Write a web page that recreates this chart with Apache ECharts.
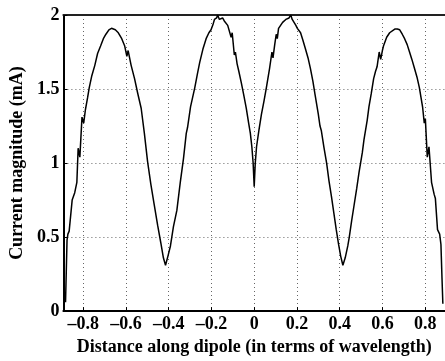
<!DOCTYPE html>
<html>
<head>
<meta charset="utf-8">
<script src="https://cdn.jsdelivr.net/npm/echarts@6/dist/echarts.min.js"></script>
<style>html,body{margin:0;padding:0;background:#fff}#c{width:445px;height:361px}</style>
</head>
<body>
<div id="c"></div>
<script>
const xTicks = [-0.8, -0.6, -0.4, -0.2, 0, 0.2, 0.4, 0.6, 0.8];
const yTicks = [0, 0.5, 1, 1.5, 2];
const distance = [
-0.883,-0.876,-0.872,-0.866,-0.860,-0.852,-0.840,-0.830,-0.824,-0.816,-0.806,-0.798,-0.790,-0.780,-0.772,-0.760,-0.746,-0.733,-0.719,-0.706,-0.694,-0.680,-0.668,-0.660,-0.650,-0.636,-0.620,-0.606,-0.596,-0.590,-0.576,-0.560,-0.545,-0.529,-0.514,-0.499,-0.484,-0.468,-0.452,-0.437,-0.425,-0.415,-0.404,-0.392,-0.378,-0.362,-0.346,-0.331,-0.318,-0.312,-0.298,-0.278,-0.266,-0.255,-0.240,-0.225,-0.212,-0.202,-0.192,-0.186,-0.176,-0.171,-0.163,-0.156,-0.148,-0.140,-0.133,-0.124,-0.116,-0.108,-0.103,-0.093,-0.088,-0.080,-0.072,-0.060,-0.049,-0.037,-0.026,-0.018,-0.011,-0.005,0.000,
0.005,0.011,0.022,0.034,0.046,0.057,0.072,0.083,0.088,0.096,0.103,0.108,0.114,0.120,0.133,0.140,0.148,0.155,0.163,0.171,0.178,0.186,0.195,0.202,0.217,0.228,0.240,0.252,0.263,0.275,0.285,0.300,0.308,0.314,0.326,0.339,0.350,0.362,0.373,0.384,0.395,0.405,0.415,0.426,0.438,0.445,0.456,0.468,0.480,0.491,0.506,0.514,0.529,0.537,0.548,0.559,0.568,0.575,0.585,0.592,0.600,0.605,0.620,0.634,0.643,0.658,0.670,0.681,0.693,0.704,0.716,0.727,0.738,0.750,0.762,0.773,0.788,0.796,0.801,0.810,0.818,0.830,0.842,0.848,0.858,0.868,0.874,0.879,0.883
];
const currentMA = [
0.06,0.48,0.52,0.54,0.55,0.75,0.80,0.87,1.10,1.04,1.31,1.27,1.36,1.44,1.51,1.59,1.66,1.74,1.79,1.84,1.87,1.90,1.91,1.905,1.90,1.88,1.84,1.79,1.72,1.76,1.66,1.57,1.47,1.37,1.20,1.01,0.86,0.72,0.58,0.46,0.36,0.31,0.37,0.44,0.57,0.68,0.87,1.03,1.20,1.24,1.38,1.51,1.60,1.68,1.77,1.84,1.88,1.90,1.94,1.97,1.98,2.00,1.97,1.96,1.98,1.96,1.95,1.93,1.92,1.85,1.88,1.73,1.75,1.67,1.62,1.54,1.46,1.37,1.27,1.20,1.11,1.00,0.84,
1.00,1.11,1.22,1.33,1.42,1.51,1.64,1.75,1.71,1.80,1.87,1.84,1.91,1.92,1.95,1.94,1.97,1.96,1.98,2.00,1.97,1.96,1.93,1.91,1.88,1.83,1.77,1.71,1.64,1.55,1.46,1.33,1.25,1.22,1.11,1.00,0.88,0.77,0.66,0.55,0.45,0.37,0.31,0.36,0.44,0.50,0.61,0.72,0.83,0.94,1.07,1.16,1.29,1.38,1.47,1.57,1.62,1.65,1.75,1.70,1.76,1.79,1.85,1.88,1.89,1.905,1.905,1.90,1.87,1.84,1.80,1.75,1.70,1.64,1.58,1.51,1.38,1.27,1.30,1.04,1.11,0.87,0.79,0.76,0.55,0.52,0.45,0.22,0.05
];
const xName = 'Distance along dipole (in terms of wavelength)';
const yName = 'Current magnitude (mA)';

const font = 'Liberation Serif';
const chart = echarts.init(document.getElementById('c'), null, {renderer: 'canvas'});
const fmt = v => {
  const r = Math.round(v * 10) / 10;
  const s = String(Math.abs(r));
  return (r < 0 ? '\u2013' : '') + s;
};
chart.setOption({
  animation: false,
  backgroundColor: '#fff',
  grid: {left: 57, top: 15, right: -3, bottom: 41, containLabel: false},
  xAxis: [{
    type: 'value', min: -0.893, max: 0.893,
    name: xName, nameLocation: 'middle', nameGap: 20,
    nameTextStyle: {fontFamily: font, fontWeight: 'bold', fontSize: 18, color: '#000'},
    axisLine: {onZero: false, lineStyle: {color: '#000', width: 2}},
    axisTick: {inside: true, length: 4, customValues: xTicks, lineStyle: {color: '#000'}},
    axisLabel: {customValues: xTicks, formatter: fmt, fontFamily: font, fontWeight: 'bold', fontSize: 18, color: '#000', margin: 4},
    splitLine: {show: true, lineStyle: {color: '#666', type: [1, 3], width: 1}}
  }, {
    type: 'value', position: 'top', min: -0.893, max: 0.893,
    axisLine: {show: true, onZero: false, lineStyle: {color: '#222', width: 2}},
    axisTick: {show: false}, axisLabel: {show: false}, splitLine: {show: false}
  }],
  yAxis: {
    type: 'value', min: 0, max: 2, interval: 0.5, position: 'left',
    name: yName, nameLocation: 'middle', nameGap: 28, nameRotate: 90,
    nameTextStyle: {fontFamily: font, fontWeight: 'bold', fontSize: 18, color: '#000'},
    axisLine: {show: true, onZero: false, lineStyle: {color: '#000', width: 2}},
    axisTick: {show: true, inside: true, length: 4, lineStyle: {color: '#000'}},
    axisLabel: {formatter: v => String(v), fontFamily: font, fontWeight: 'bold', fontSize: 18, color: '#000', margin: 4},
    splitLine: {show: true, lineStyle: {color: '#666', type: [1, 3], width: 1}}
  },
  series: [{
    type: 'line',
    data: distance.map((x, i) => [x, currentMA[i]]),
    showSymbol: false,
    lineStyle: {color: '#000', width: 1.5},
    clip: true
  }]
});
</script>
</body>
</html>
